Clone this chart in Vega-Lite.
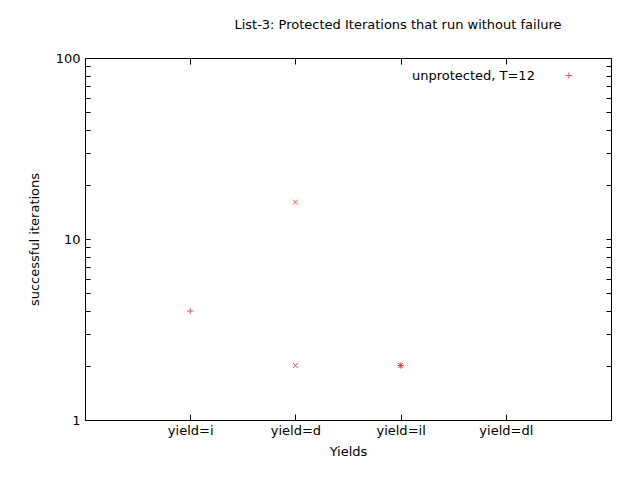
{
"$schema":"https://vega.github.io/schema/vega-lite/v6.json",
"width":526,"height":362,
"autosize":{"type":"none"},
"padding":{"left":85,"top":58,"right":29,"bottom":60},
"background":"white",
"config":{"view":{"stroke":"black","strokeWidth":1},"font":"DejaVu Sans",
"axis":{"grid":false,"domain":false,"tickColor":"black","labelColor":"black","titleColor":"black","labelFontSize":13,"titleFontSize":13,"titleFontWeight":"normal","labelFont":"DejaVu Sans","titleFont":"DejaVu Sans"}},
"title":{"text":"List-3: Protected Iterations that run without failure","fontSize":13,"fontWeight":"normal","font":"DejaVu Sans","offset":20,"color":"black","anchor":"middle","dx":50},
"datasets":{
"pts":[
{"yield":1,"value":4,"series":"plus"},
{"yield":2,"value":16,"series":"x"},
{"yield":2,"value":2,"series":"x"},
{"yield":3,"value":2,"series":"plus"},
{"yield":3,"value":2,"series":"x"}],
"leg":[{"x":4.6,"y":80,"label":"unprotected, T=12"}]
},
"layer":[
{"data":{"name":"pts"},"transform":[{"filter":"datum.series=='plus'"}],
"mark":{"type":"point","shape":"M-1,0H1M0,-1V1","size":40,"color":"red","strokeWidth":1,"filled":false},
"encoding":{
"x":{"field":"yield","type":"quantitative","scale":{"domain":[0,5]},"title":"Yields",
"axis":{"values":[1,2,3,4],"labelExpr":"['','yield=i','yield=d','yield=il','yield=dl'][datum.value]","tickSize":-6,"labelPadding":10,"titlePadding":8}},
"y":{"field":"value","type":"quantitative","scale":{"type":"log","domain":[1,100]},"title":"successful iterations",
"axis":{"values":[1,2,3,4,5,6,7,8,9,10,20,30,40,50,60,70,80,90,100],"labelExpr":"datum.value==1||datum.value==10||datum.value==100?datum.value:''","tickSize":-5,"labelPadding":10,"titlePadding":14}}}},
{"data":{"name":"pts"},"transform":[{"filter":"datum.series=='x'"}],
"mark":{"type":"point","shape":"M-1,-1L1,1M-1,1L1,-1","size":25,"color":"red","strokeWidth":1,"filled":false},
"encoding":{
"x":{"field":"yield","type":"quantitative","scale":{"domain":[0,5]},"axis":{"orient":"top","values":[1,2,3,4],"labels":false,"tickSize":-6,"title":null}},
"y":{"field":"value","type":"quantitative","scale":{"type":"log","domain":[1,100]},"axis":{"orient":"right","values":[1,2,3,4,5,6,7,8,9,10,20,30,40,50,60,70,80,90,100],"labels":false,"tickSize":-5,"title":null}}}},
{"data":{"name":"leg"},"mark":{"type":"point","shape":"M-1,0H1M0,-1V1","size":40,"color":"red","strokeWidth":1,"filled":false},
"encoding":{"x":{"field":"x","type":"quantitative","axis":null},"y":{"field":"y","type":"quantitative","axis":null}}},
{"data":{"name":"leg"},"mark":{"type":"text","align":"right","dx":-34,"fontSize":13,"font":"DejaVu Sans","color":"black"},
"encoding":{"x":{"field":"x","type":"quantitative","axis":null},"y":{"field":"y","type":"quantitative","axis":null},"text":{"field":"label"}}}
],
"resolve":{"axis":{"x":"independent","y":"independent"}}
}
